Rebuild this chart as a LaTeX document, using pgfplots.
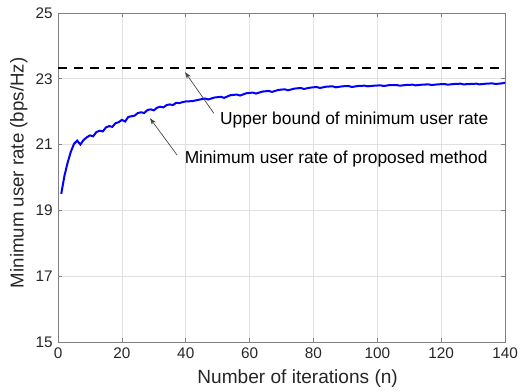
\documentclass[border=0pt]{standalone}
\usepackage{fontspec}
\setmainfont{Liberation Sans}
\usepackage{pgfplots}
\pgfplotsset{compat=1.18}
\usetikzlibrary{arrows.meta}
\definecolor{axgray}{RGB}{128,128,128}
\definecolor{gridgray}{RGB}{225,225,225}
\begin{document}
\fontsize{11.5}{13}\selectfont
\begin{tikzpicture}
\begin{axis}[
  scale only axis, width=335pt, height=246.6pt,
  xmin=0, xmax=140, ymin=15, ymax=25,
  xtick={0,20,...,140}, ytick={15,17,...,25},
  grid=major, major grid style={gridgray, line width=0.5pt},
  axis line style={axgray, line width=0.6pt},
  tick style={axgray, line width=0.6pt},
  tick align=inside, major tick length=3pt,
  /pgf/number format/assume math mode=true,
  ticklabel style={font=\fontsize{11.5}{13}\selectfont, text=black!85},
  xlabel={Number of iterations (n)},
  ylabel={Minimum user rate (bps/Hz)},
  xlabel style={at={(axis description cs:0.536,-0.1125)}, anchor=center, font=\fontsize{14.3}{16}\selectfont, text=black!85},
  ylabel style={at={(axis description cs:-0.088,0.514)}, anchor=center, font=\fontsize{14}{16}\selectfont, text=black!85},
  clip=false,
]
\addplot[black, line width=1.6pt, dash pattern=on 6.5pt off 5.5pt, forget plot] coordinates {(0,23.32) (140,23.32)};
\addplot[blue, line width=1.5pt] coordinates {
(1,19.50) (2,20.05) (3,20.45) (4,20.78) (5,21.02) (6,21.12) (7,21.0) (8,21.14)
(9,21.22) (10,21.28) (11,21.25) (12,21.38) (13,21.42) (14,21.40) (15,21.52) (16,21.56)
(17,21.54) (18,21.65) (19,21.68) (20,21.75) (21,21.70) (22,21.84) (23,21.86) (24,21.88)
(25,21.96) (26,21.98) (27,21.96) (28,22.05) (29,22.07) (30,22.04) (31,22.12) (32,22.15)
(33,22.13) (34,22.20) (35,22.22) (36,22.20) (37,22.27) (38,22.26) (39,22.29) (40,22.31)
(42,22.32) (44,22.36) (46,22.40) (47,22.37) (49,22.43) (51,22.45) (52,22.42) (54,22.50)
(56,22.52) (57,22.49) (59,22.56) (61,22.58) (62,22.55) (64,22.61) (66,22.63) (67,22.60)
(69,22.66) (71,22.68) (72,22.65) (74,22.70) (76,22.72) (77,22.69) (79,22.73) (81,22.75)
(82,22.72) (84,22.76) (86,22.77) (87,22.74) (89,22.77) (91,22.78) (92,22.75) (94,22.78)
(96,22.79) (97,22.77) (99,22.79) (101,22.80) (102,22.78) (104,22.81) (106,22.81) (107,22.79)
(109,22.81) (111,22.82) (112,22.80) (114,22.82) (116,22.83) (117,22.81) (119,22.83) (121,22.84)
(122,22.82) (124,22.84) (126,22.85) (127,22.83) (129,22.84) (131,22.85) (132,22.83) (134,22.85)
(136,22.86) (137,22.84) (139,22.86) (140,22.88)
};
\draw[black!75, line width=0.5pt, -{Stealth[length=5pt,width=3.5pt]}] (axis cs:48.8,21.95) -- (axis cs:39.8,23.2);
\node[anchor=west, text=black, inner sep=0pt, font=\fontsize{13}{15}\selectfont] at (axis cs:50.7,21.75) {Upper bound of minimum user rate};
\draw[black!75, line width=0.5pt, -{Stealth[length=5pt,width=3.5pt]}] (axis cs:37.3,20.68) -- (axis cs:28.8,21.8);
\node[anchor=west, text=black, inner sep=0pt, font=\fontsize{13}{15}\selectfont] at (axis cs:39.6,20.55) {Minimum user rate of proposed method};
\end{axis}
\pgfresetboundingbox
\path ([shift={(-43.5pt,-36pt)}]current axis.south west) rectangle ([shift={(11.2pt,9.7pt)}]current axis.north east);
\end{tikzpicture}
\end{document}
